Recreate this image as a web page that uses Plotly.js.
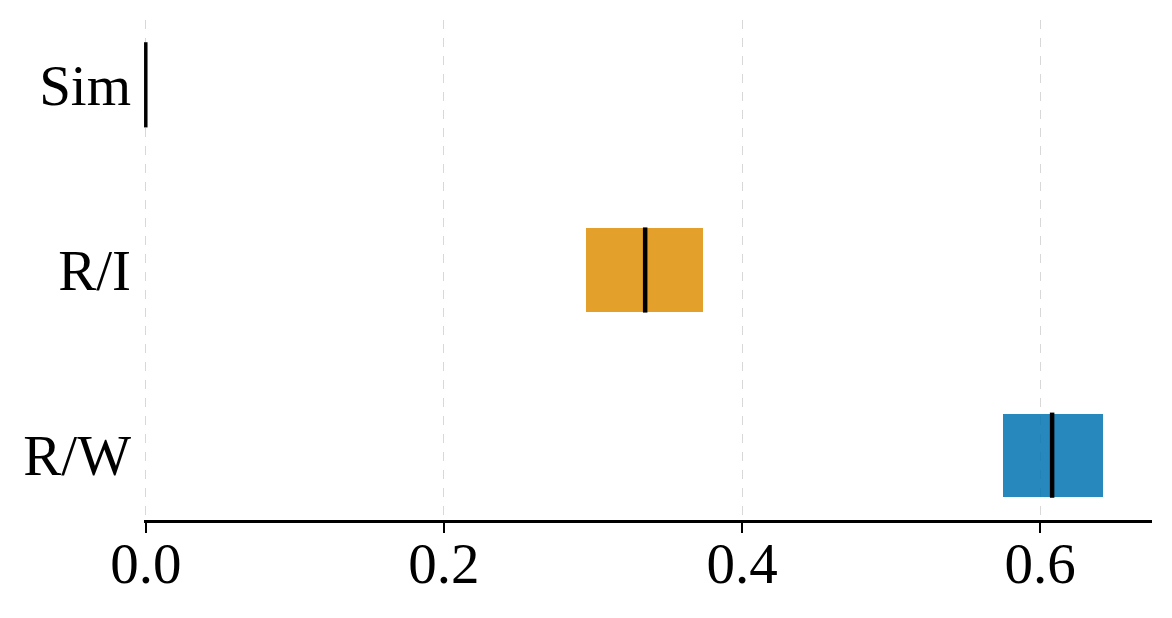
<!DOCTYPE html>
<html>
<head>
<meta charset="utf-8">
<script src="https://cdn.plot.ly/plotly-3.0.1.min.js"></script>
<style>
  body { margin: 0; background: #fff; }
  #graph { width: 1172px; height: 618px; }
</style>
</head>
<body>
<div id="graph"></div>
<script>
// categories, bottom to top
const categories = ['R/W', 'R/I', 'Sim'];
const lowValues = [0.575, 0.295, 0.0];
const highValues = [0.642, 0.374, 0.0];
const medianValues = [0.608, 0.335, 0.0];
const boxColors = ['rgba(1,115,178,0.85)', 'rgba(222,143,5,0.85)', 'rgba(0,0,0,0)'];
const tickValues = [0, 0.2, 0.4, 0.6];

document.addEventListener('DOMContentLoaded', function(event)
{
  displayPlot("graph");
});

function displayPlot(divPlot)
{
  const boxWidth = 0.45;
  const font = 'Liberation Serif, Times New Roman, serif';

  let boxPlot = {
    type: 'bar',
    orientation: 'h',
    y: categories,
    x: highValues.map((h, i) => h - lowValues[i]),
    base: lowValues,
    width: boxWidth,
    marker: { color: boxColors, line: { width: 0 } },
    hoverinfo: 'skip',
    showlegend: false
  };

  // one median segment per category
  let plotData = [boxPlot];
  categories.forEach(function(cat, i)
  {
    plotData.push({
      type: 'scatter',
      mode: 'lines',
      x: [medianValues[i], medianValues[i]],
      y: [i - boxWidth / 2 - 0.005, i + boxWidth / 2 + 0.005],
      yaxis: 'y2',
      line: { color: 'black', width: cat === 'Sim' ? 3.5 : 4.5 },
      hoverinfo: 'skip',
      showlegend: false
    });
  });

  let layout =
  {
    width: 1172,
    height: 618,
    margin: { l: 144, r: 20, t: 20, b: 98 },
    paper_bgcolor: 'white',
    plot_bgcolor: 'white',
    font: { family: font, size: 57, color: 'black' },
    bargap: 0,
    xaxis:
    {
      range: [-0.0012, 0.675],
      autorange: false,
      tickvals: tickValues,
      tickformat: '.1f',
      ticks: 'outside',
      ticklen: 10,
      tickwidth: 2.5,
      tickcolor: 'black',
      ticklabelstandoff: -18,
      showline: true,
      linecolor: 'black',
      linewidth: 2.5,
      showgrid: true,
      gridcolor: '#d8d8d8',
      gridwidth: 1,
      griddash: 'dash',
      zeroline: false,
      tickfont: { family: font, size: 57, color: 'black' }
    },
    yaxis:
    {
      type: 'category',
      categoryorder: 'array',
      categoryarray: categories,
      range: [-0.35, 2.35],
      autorange: false,
      showline: false,
      showgrid: false,
      zeroline: false,
      ticks: '',
      ticklabelstandoff: 12,
      tickfont: { family: font, size: 57, color: 'black' }
    },
    yaxis2:
    {
      overlaying: 'y',
      range: [-0.35, 2.35],
      autorange: false,
      visible: false
    },
    hovermode: false
  };

  Plotly.newPlot(divPlot, plotData, layout, { displayModeBar: false, staticPlot: true });
}
</script>
</body>
</html>
